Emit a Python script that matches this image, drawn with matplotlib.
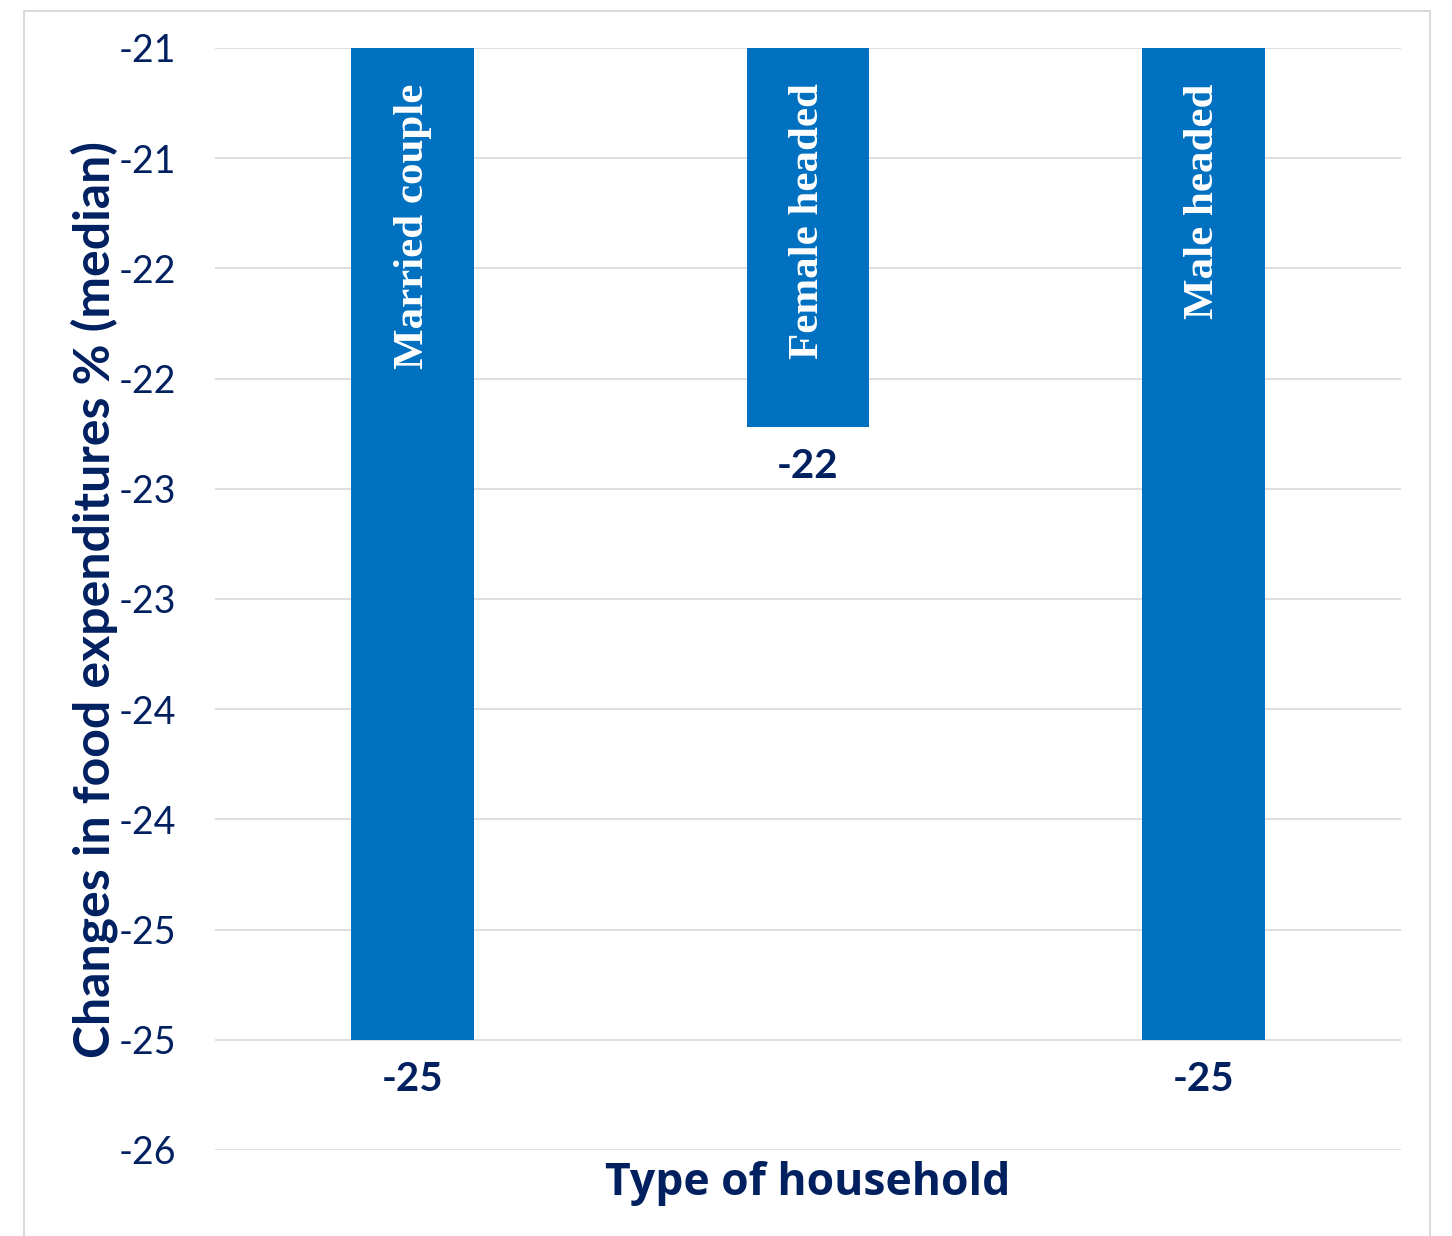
import math
import matplotlib
matplotlib.use("Agg")
import matplotlib.pyplot as plt
from matplotlib.patches import Rectangle
from matplotlib.ticker import FixedLocator, FuncFormatter

# Median change in food expenditures (%) by household type
categories = ["Married couple", "Female headed", "Male headed"]
values = [-25.0, -22.22, -25.0]
y_ticks = [-20.5, -21.0, -21.5, -22.0, -22.5, -23.0, -23.5, -24.0, -24.5, -25.0, -25.5]

NAVY = "#002060"
BLUE = "#0070C0"
GRID = "#d9d9d9"


def round_half_away(v):
    return int(math.copysign(math.floor(abs(v) + 0.5), v))


fig = plt.figure(figsize=(14.52, 12.36), dpi=100)
fig.patches.append(Rectangle((23.5 / 1452, -0.05), (1430 - 23.5) / 1452, 1 - 11 / 1236 + 0.05,
                             transform=fig.transFigure, fill=False,
                             edgecolor=GRID, linewidth=1.4, zorder=0))

ax = fig.add_axes([215 / 1452, 1 - 1150 / 1236, (1401 - 215) / 1452, (1150 - 48) / 1236])

x = list(range(len(categories)))
bars = ax.bar(x, values, width=0.31, color=BLUE, zorder=2)

ax.set_xlim(-0.5, 2.5)
ax.set_ylim(-25.5, -20.5)
ax.yaxis.set_major_locator(FixedLocator(y_ticks))
ax.yaxis.set_major_formatter(FuncFormatter(lambda v, p: f"{round_half_away(v)}"))
ax.set_xticks([])
ax.grid(axis="y", color=GRID, linewidth=1.2, zorder=0)
for s in ax.spines.values():
    s.set_visible(False)
ax.tick_params(axis="y", length=0, pad=28, labelsize=27, labelcolor=NAVY)
for lbl in ax.get_yticklabels():
    lbl.set_fontfamily("Lato")

ax.set_ylabel("Changes in food expenditures % (median)", fontsize=36, fontweight="bold",
              color=NAVY, family="Lato", labelpad=0)
ax.set_xlabel("Type of household", fontsize=32, fontweight="bold", color=NAVY,
              family="Open Sans", labelpad=8)

# Category names inside the bars, and rounded values beneath them
for xi, name, v in zip(x, categories, values):
    ax.text(xi, 0.968, name, rotation=90, ha="center", va="top", color="white",
            fontsize=31, fontweight="bold", family="Liberation Serif",
            transform=ax.get_xaxis_transform(), zorder=3)
    ax.annotate(f"{round_half_away(v)}", xy=(xi, v), xytext=(0, -15),
                textcoords="offset points", ha="center", va="top",
                fontsize=29, fontweight="bold", color=NAVY, family="Lato")

fig.savefig("out.png", dpi=100, facecolor="white")
